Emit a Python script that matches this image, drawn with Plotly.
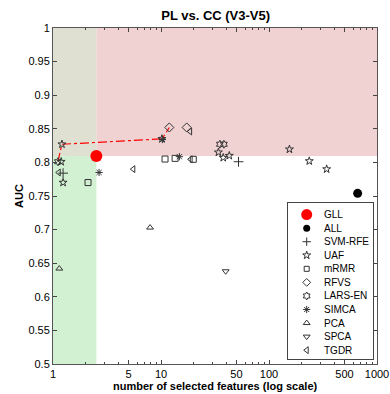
import plotly.graph_objects as go

# ---------------- data ----------------
gll_x = [2.52]
gll_y = [0.8095]
all_x = [662]
all_y = [0.754]
svm_x = [1.24, 52.2]
svm_y = [0.784, 0.801]
uaf_x = [1.19, 1.21, 1.24, 10.2, 34.0, 37.7, 42.9, 154.6, 236, 342]
uaf_y = [0.801, 0.827, 0.770, 0.835, 0.815, 0.807, 0.810, 0.8195, 0.802, 0.790]
mrmr_x = [2.11, 10.9, 13.5, 19.9]
mrmr_y = [0.770, 0.805, 0.806, 0.8046]
rfvs_x = [11.94, 17.3]
rfvs_y = [0.852, 0.852]
lars_x = [1.11, 35.1, 38.2]
lars_y = [0.801, 0.827, 0.827]
simca_x = [2.67, 14.8, 10.3]
simca_y = [0.785, 0.8085, 0.834]
pca_x = [1.144, 7.92]
pca_y = [0.642, 0.703]
spca_x = [39.7]
spca_y = [0.638]
tgdr_x = [1.13, 5.54, 18.6, 18.8]
tgdr_y = [0.785, 0.790, 0.846, 0.8046]
front_x = [1.11, 1.21, 10.2, 11.94]
front_y = [0.801, 0.827, 0.835, 0.852]

xtick_vals = [1, 5, 10, 50, 100, 500, 1000]
xtick_text = ["1", "5", "10", "50", "100", "500", "1000"]
xminor_vals = [2, 3, 4, 6, 7, 8, 9, 20, 30, 40, 60, 70, 80, 90,
               200, 300, 400, 600, 700, 800, 900]
ytick_vals = [0.5, 0.55, 0.6, 0.65, 0.7, 0.75, 0.8, 0.85, 0.9, 0.95, 1.0]
ytick_text = ["0.5", "0.55", "0.6", "0.65", "0.7", "0.75", "0.8", "0.85", "0.9", "0.95", "1"]

legend_names = ["GLL", "ALL", "SVM-RFE", "UAF", "mRMR", "RFVS", "LARS-EN",
                "SIMCA", "PCA", "SPCA", "TGDR"]

FONT = "Arial, Liberation Sans, sans-serif"
MC = "#333333"

fig = go.Figure()

# background regions derived from GLL point
gx, gy = gll_x[0], gll_y[0]
fig.add_shape(type="rect", xref="x", yref="y", x0=gx, x1=1000, y0=gy, y1=1,
              fillcolor="#F0D2D2", line_width=0, layer="below")
fig.add_shape(type="rect", xref="x", yref="y", x0=1, x1=gx, y0=gy, y1=1,
              fillcolor="#DFE0D1", line_width=0, layer="below")
fig.add_shape(type="rect", xref="x", yref="y", x0=1, x1=gx, y0=0.5, y1=gy,
              fillcolor="#D2F0D2", line_width=0, layer="below")

fig.add_trace(go.Scatter(x=front_x, y=front_y, mode="lines",
                         line=dict(color="red", width=1.2, dash="dashdot"),
                         showlegend=False, hoverinfo="skip"))

styles = {
    "GLL": dict(symbol="circle", size=12, color="red", lw=0, lsize=11),
    "ALL": dict(symbol="circle", size=9, color="black", lw=0, lsize=7),
    "SVM-RFE": dict(symbol="cross-thin-open", size=7, color=MC, lw=1, lsize=6),
    "UAF": dict(symbol="star-open", size=6, color=MC, lw=1, lsize=6),
    "mRMR": dict(symbol="square-open", size=6, color=MC, lw=1, lsize=5),
    "RFVS": dict(symbol="diamond-open", size=7, color=MC, lw=1, lsize=6),
    "LARS-EN": dict(symbol="hexagram-open", size=6, color=MC, lw=1, lsize=6),
    "SIMCA": dict(symbol="asterisk-open", size=6, color=MC, lw=1, lsize=6),
    "PCA": dict(symbol="triangle-up-open", size=6, color=MC, lw=1, lsize=6),
    "SPCA": dict(symbol="triangle-down-open", size=6, color=MC, lw=1, lsize=6),
    "TGDR": dict(symbol="triangle-left-open", size=6, color=MC, lw=1, lsize=6),
}
series = {
    "GLL": (gll_x, gll_y), "ALL": (all_x, all_y), "SVM-RFE": (svm_x, svm_y),
    "UAF": (uaf_x, uaf_y), "mRMR": (mrmr_x, mrmr_y), "RFVS": (rfvs_x, rfvs_y),
    "LARS-EN": (lars_x, lars_y), "SIMCA": (simca_x, simca_y),
    "PCA": (pca_x, pca_y), "SPCA": (spca_x, spca_y), "TGDR": (tgdr_x, tgdr_y),
}

for name in legend_names:
    s = styles[name]
    x, y = series[name]
    fig.add_trace(go.Scatter(x=x, y=y, mode="markers", name=name, showlegend=False,
                             marker=dict(symbol=s["symbol"], size=s["size"], color=s["color"],
                                         line=dict(color=s["color"], width=s["lw"]))))

# custom compact legend drawn on its own small axes (units: rows)
n = len(legend_names)
rows = list(range(n))
for name, r in zip(legend_names, rows):
    s = styles[name]
    fig.add_trace(go.Scatter(x=[0.22], y=[r], xaxis="x2", yaxis="y2", mode="markers",
                             showlegend=False, hoverinfo="skip",
                             marker=dict(symbol=s["symbol"], size=s["lsize"], color=s["color"],
                                         line=dict(color=s["color"], width=s["lw"]))))

annotations = [
    dict(text="<b>number of selected features (log scale)</b>", xref="paper",
         yref="paper", x=0.5, y=-0.064, xanchor="center", yanchor="middle",
         showarrow=False, font=dict(size=11, family=FONT)),
    dict(text="<b>AUC</b>", xref="paper", yref="paper", x=-0.105, y=0.5,
         xanchor="center", yanchor="middle", textangle=-90,
         showarrow=False, font=dict(size=11, family=FONT)),
]
for name, r in zip(legend_names, rows):
    annotations.append(dict(text=name, xref="x2", yref="y2", x=0.405, y=r,
                            xanchor="left", yanchor="middle", showarrow=False,
                            font=dict(size=10, family=FONT, color="black")))

axis_common = dict(ticks="inside", ticklen=4, tickcolor="#444", showline=True,
                   linecolor="#555", linewidth=1, mirror="ticks", showgrid=False,
                   zeroline=False, automargin=False)

fig.update_layout(
    width=390, height=394,
    margin=dict(l=53, r=13, t=28, b=30),
    paper_bgcolor="white", plot_bgcolor="white",
    font=dict(family=FONT, size=11, color="black"),
    title=dict(text="<b>PL vs. CC (V3-V5)</b>", x=0.553, xanchor="center",
               y=0.962, yanchor="middle", font=dict(size=13, family=FONT)),
    showlegend=False,
    xaxis=dict(type="log", range=[0, 3], tickvals=xtick_vals, ticktext=xtick_text,
               minor=dict(tickvals=xminor_vals, ticks="inside", ticklen=2,
                          tickcolor="#444", showgrid=False),
               **axis_common),
    yaxis=dict(range=[0.5, 1], tickvals=ytick_vals, ticktext=ytick_text, **axis_common),
    xaxis2=dict(domain=[0.7253, 0.9877], range=[0, 1], anchor="y2",
                showticklabels=False, ticks="", showline=True, linecolor="#444",
                mirror=True, showgrid=False, zeroline=False, fixedrange=True),
    yaxis2=dict(domain=[0.0149, 0.479], range=[n - 0.35, -0.85], anchor="x2",
                showticklabels=False, ticks="", showline=True, linecolor="#444",
                mirror=True, showgrid=False, zeroline=False, fixedrange=True),
    annotations=annotations,
)

fig.write_html("out.html")
